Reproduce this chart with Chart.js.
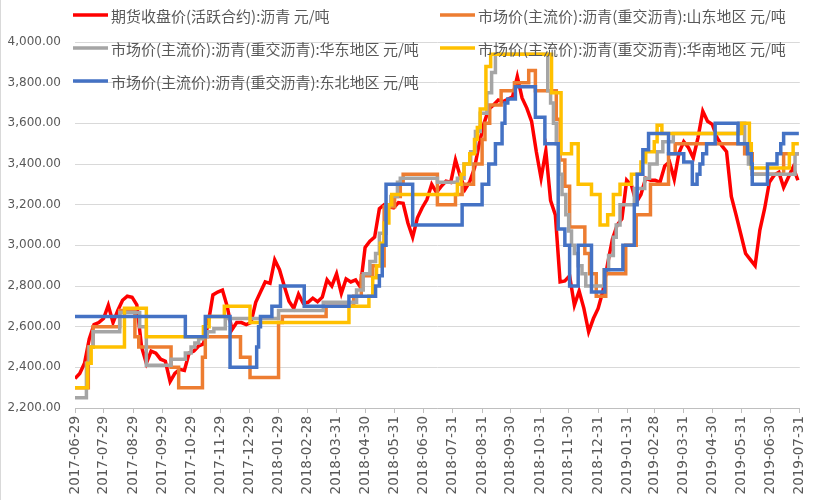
<!DOCTYPE html>
<html>
<head>
<meta charset="utf-8">
<script src="https://cdn.jsdelivr.net/npm/chart.js@4.4.0/dist/chart.umd.min.js"></script>
<style>
  html, body { margin: 0; padding: 0; background: #fff; }
  #wrap { position: relative; width: 819px; height: 500px; box-sizing: border-box; border-left: 1px solid #d9d9d9; }
  canvas { display: block; }
</style>
</head>
<body>
<div id="wrap"><canvas id="chart" width="818" height="500"></canvas></div>
<script>
// 日期范围与坐标轴刻度
const startDate = '2017-06-29';
const endDate = '2019-07-30';
const tickLabels = [
  '2017-06-29', '2017-07-29', '2017-08-29', '2017-09-29', '2017-10-29', '2017-11-29',
  '2017-12-29', '2018-01-29', '2018-02-28', '2018-03-31', '2018-04-30', '2018-05-31',
  '2018-06-30', '2018-07-31', '2018-08-31', '2018-09-30', '2018-10-31', '2018-11-30',
  '2018-12-31', '2019-01-31', '2019-02-28', '2019-03-31', '2019-04-30', '2019-05-31',
  '2019-06-30', '2019-07-31'
];

const seriesNames = [
  '期货收盘价(活跃合约):沥青 元/吨',
  '市场价(主流价):沥青(重交沥青):山东地区 元/吨',
  '市场价(主流价):沥青(重交沥青):华东地区 元/吨',
  '市场价(主流价):沥青(重交沥青):华南地区 元/吨',
  '市场价(主流价):沥青(重交沥青):东北地区 元/吨'
];
const seriesColors = ['#ff0000', '#ed7d31', '#a5a5a5', '#ffc000', '#4472c4'];

// 期货收盘价, 每5天取一个读数
const futuresStepDays = 5;
const futuresValues = [
  2345, 2370, 2420, 2540, 2610, 2620, 2640, 2705, 2620, 2680,
  2730, 2750, 2745, 2707, 2500, 2420, 2480, 2470, 2440, 2430,
  2330, 2370, 2390, 2385, 2470, 2480, 2505, 2515, 2615, 2756,
  2770, 2780, 2700, 2585, 2620, 2620, 2610, 2620, 2720, 2770,
  2820, 2813, 2928, 2880, 2800, 2725, 2690, 2760, 2715, 2720,
  2740, 2723, 2745, 2830, 2800, 2860, 2764, 2835, 2820, 2830,
  2795, 2990, 3020, 3040, 3180, 3200, 3190, 3185, 3210, 3207,
  3110, 3040, 3135, 3185, 3225, 3300, 3260, 3290, 3315, 3310,
  3420, 3340, 3275, 3313, 3380, 3500, 3600, 3670, 3690, 3715,
  3707, 3718, 3730, 3830, 3725, 3675, 3610, 3460, 3330, 3465,
  3220, 3150, 2820, 2825, 2850, 2705, 2775, 2690, 2575, 2640,
  2690, 2775, 2910, 3030, 3100, 3130, 3320, 3295, 3210, 3250,
  3330, 3320, 3320, 3310, 3390, 3410, 3325, 3455, 3510, 3480,
  3430, 3530, 3660, 3610, 3595, 3530, 3490, 3461, 3240, 3150,
  3055, 2960, 2930, 2900, 3075, 3180, 3310, 3345, 3360, 3285,
  3335, 3385, 3320
];

// 山东地区 (价格变动日 / 价格)
const shandongDates = [
  '2017-06-29', '2017-07-13', '2017-07-18', '2017-08-15', '2017-08-31', '2017-09-04',
  '2017-10-08', '2017-10-16', '2017-11-10', '2017-11-13', '2017-12-20', '2017-12-30',
  '2018-01-29', '2018-02-02', '2018-03-20', '2018-04-18', '2018-04-26', '2018-05-08',
  '2018-05-20', '2018-05-31', '2018-06-06', '2018-06-09', '2018-07-15', '2018-08-03',
  '2018-08-10', '2018-08-22', '2018-08-31', '2018-09-03', '2018-09-08', '2018-09-20',
  '2018-10-04', '2018-10-19', '2018-10-26', '2018-11-17', '2018-11-21', '2018-11-26',
  '2018-12-01', '2018-12-17', '2018-12-22', '2018-12-29', '2019-01-08', '2019-01-29',
  '2019-02-09', '2019-02-24', '2019-03-15', '2019-03-22', '2019-06-03', '2019-06-11',
  '2019-07-14'
];
const shandongValues = [
  2300, 2500, 2600, 2680, 2550, 2500,
  2400, 2300, 2450, 2550, 2450, 2350,
  2620, 2650, 2700, 2750, 2850, 2900,
  3190, 3240, 3300, 3350, 3200, 3250,
  3300, 3400, 3520, 3600, 3690, 3760,
  3800, 3860, 3760, 3620, 3420, 3290,
  3090, 2960, 2860, 2750, 2860, 3000,
  3150, 3300, 3450, 3500, 3450, 3350,
  3450
];

// 华东地区
const eastDates = [
  '2017-06-29', '2017-07-11', '2017-07-14', '2017-07-18', '2017-08-15', '2017-09-05',
  '2017-09-12', '2017-10-08', '2017-10-23', '2017-10-29', '2017-11-02', '2017-11-06',
  '2017-11-10', '2017-11-15', '2017-11-22', '2017-12-04', '2018-01-29', '2018-03-17',
  '2018-04-21', '2018-04-28', '2018-05-05', '2018-05-11', '2018-05-15', '2018-05-22',
  '2018-05-27', '2018-06-03', '2018-06-06', '2018-07-15', '2018-08-05', '2018-08-12',
  '2018-08-19', '2018-08-24', '2018-08-29', '2018-09-05', '2018-09-10', '2018-09-14',
  '2018-11-08', '2018-11-11', '2018-11-14', '2018-11-17', '2018-11-20', '2018-11-23',
  '2018-11-27', '2018-11-30', '2018-12-03', '2018-12-06', '2018-12-10', '2018-12-14',
  '2018-12-18', '2019-01-06', '2019-01-11', '2019-01-16', '2019-01-19', '2019-01-23',
  '2019-02-07', '2019-02-18', '2019-02-23', '2019-03-03', '2019-03-09', '2019-03-20',
  '2019-05-28', '2019-06-03', '2019-06-07', '2019-06-11', '2019-07-26'
];
const eastValues = [
  2250, 2420, 2500, 2575, 2670, 2600,
  2410, 2440, 2470, 2500, 2520, 2540,
  2550, 2575, 2590, 2640, 2680, 2720,
  2780, 2860, 2920, 2960, 3060, 3200,
  3240, 3310, 3330, 3310, 3330, 3400,
  3460, 3560, 3650, 3750, 3850, 3940,
  3760, 3700, 3600, 3500, 3350, 3250,
  3150, 3070, 3000, 2960, 2900, 2860,
  2800, 2880, 2950, 3040, 3100, 3200,
  3280, 3330, 3400, 3460, 3510, 3550,
  3600, 3500, 3400, 3350, 3450
];

// 华南地区
const southDates = [
  '2017-06-29', '2017-07-12', '2017-07-16', '2017-08-20', '2017-09-12', '2017-11-11',
  '2017-11-17', '2017-12-03', '2017-12-30', '2018-04-13', '2018-05-04', '2018-05-08',
  '2018-05-12', '2018-05-16', '2018-05-20', '2018-05-25', '2018-05-28', '2018-08-05',
  '2018-08-09', '2018-08-12', '2018-08-18', '2018-08-23', '2018-08-26', '2018-08-29',
  '2018-09-04', '2018-09-09', '2018-11-12', '2018-11-22', '2018-12-03', '2018-12-10',
  '2018-12-24', '2019-01-02', '2019-01-10', '2019-01-16', '2019-01-23', '2019-02-04',
  '2019-02-14', '2019-02-19', '2019-02-28', '2019-03-03', '2019-03-08', '2019-05-31',
  '2019-06-08', '2019-06-10', '2019-07-20', '2019-07-24'
];
const southValues = [
  2300, 2420, 2500, 2690, 2550, 2600,
  2650, 2700, 2620, 2700, 2750, 2840,
  2900, 3010, 3110, 3200, 3250, 3300,
  3350, 3400, 3450, 3520, 3580, 3670,
  3880, 3940, 3750, 3450, 3500, 3300,
  3250, 3100, 3150, 3250, 3300, 3350,
  3410, 3460, 3510, 3590, 3550, 3600,
  3500, 3380, 3450, 3500
];

// 东北地区
const northeastDates = [
  '2017-06-29', '2017-10-23', '2017-11-13', '2017-12-09', '2018-01-06', '2018-01-08',
  '2018-01-10', '2018-01-22', '2018-01-31', '2018-02-25', '2018-04-13', '2018-05-11',
  '2018-05-15', '2018-05-18', '2018-05-22', '2018-06-19', '2018-08-10', '2018-08-31',
  '2018-09-07', '2018-09-14', '2018-09-21', '2018-09-24', '2018-09-27', '2018-10-05',
  '2018-10-26', '2018-11-05', '2018-11-19', '2018-11-26', '2018-12-01', '2018-12-10',
  '2018-12-24', '2019-01-07', '2019-01-26', '2019-02-07', '2019-02-10', '2019-02-16',
  '2019-02-22', '2019-03-15', '2019-03-31', '2019-04-09', '2019-04-14', '2019-04-17',
  '2019-04-20', '2019-04-24', '2019-05-03', '2019-05-27', '2019-06-06', '2019-06-10',
  '2019-06-11', '2019-06-27', '2019-07-07', '2019-07-11', '2019-07-14'
];
const northeastValues = [
  2650, 2550, 2650, 2400, 2500, 2600,
  2650, 2700, 2800, 2700, 2750, 2800,
  2850, 3000, 3300, 3100, 3200, 3300,
  3400, 3500, 3600, 3700, 3720, 3780,
  3630, 3500, 3080, 3000, 2800, 3000,
  2770, 2880, 3000, 3200, 3350, 3470,
  3550, 3450, 3410, 3300, 3350, 3400,
  3450, 3500, 3600, 3500, 3450, 3400,
  3300, 3400, 3450, 3500, 3550
];

const DAY = 86400000;
const dayOf = s => (Date.parse(s) - Date.parse(startDate)) / DAY;
const lastDay = dayOf('2019-07-31');
const tickDays = tickLabels.map(dayOf);

function stepPoints(dates, values) {
  const pts = dates.map((d, i) => ({ x: dayOf(d), y: values[i] }));
  pts.push({ x: dayOf(endDate), y: values[values.length - 1] });
  return pts;
}
const futuresPoints = futuresValues.map((v, i) => ({ x: i * futuresStepDays, y: v }));

const seriesPoints = [
  futuresPoints,
  stepPoints(shandongDates, shandongValues),
  stepPoints(eastDates, eastValues),
  stepPoints(southDates, southValues),
  stepPoints(northeastDates, northeastValues)
];

// Excel 风格的图例, 画在绘图区上方
const excelLegend = {
  id: 'excelLegend',
  afterDatasetsDraw(chart) {
    const ctx = chart.ctx;
    const slots = [[72, 15], [439, 15], [72, 48], [439, 48], [72, 81]];
    ctx.save();
    ctx.font = '15px "Noto Sans CJK SC", sans-serif';
    ctx.textBaseline = 'middle';
    chart.data.datasets.forEach((ds, i) => {
      const [x, y] = slots[i];
      ctx.strokeStyle = ds.borderColor;
      ctx.lineWidth = 3.5;
      ctx.beginPath();
      ctx.moveTo(x, y);
      ctx.lineTo(x + 35, y);
      ctx.stroke();
      ctx.fillStyle = '#595959';
      ctx.fillText(ds.label, x + 38, y + 1);
    });
    ctx.restore();
  }
};

const ctx = document.getElementById('chart').getContext('2d');
new Chart(ctx, {
  type: 'line',
  data: {
    datasets: seriesNames.map((name, i) => ({
      label: name,
      data: seriesPoints[i],
      borderColor: seriesColors[i],
      backgroundColor: seriesColors[i],
      borderWidth: 3.5,
      pointRadius: 0,
      fill: false,
      tension: 0,
      stepped: i === 0 ? false : 'before',
      order: 5 - i
    }))
  },
  options: {
    responsive: false,
    animation: false,
    devicePixelRatio: 1,
    layout: { padding: { top: 42, right: 13, left: 0, bottom: 0 } },
    plugins: {
      legend: { display: false },
      tooltip: { enabled: false }
    },
    scales: {
      x: {
        type: 'linear',
        min: 0,
        max: lastDay,
        afterBuildTicks: axis => { axis.ticks = tickDays.map(v => ({ value: v })); },
        afterFit: axis => { axis.height = 92; },
        ticks: {
          autoSkip: false,
          minRotation: 90,
          maxRotation: 90,
          padding: 3,
          color: '#595959',
          font: { family: 'DejaVu Sans', size: 13.5 },
          callback: (v, i) => tickLabels[i]
        },
        grid: { drawOnChartArea: false, drawTicks: true, tickLength: 5, color: '#bfbfbf' },
        border: { display: true, color: '#bfbfbf' }
      },
      y: {
        min: 2200,
        max: 4000,
        afterFit: axis => { axis.width = 74; },
        ticks: {
          stepSize: 200,
          padding: 14,
          color: '#595959',
          font: { family: 'DejaVu Sans', size: 12 },
          callback: v => v.toLocaleString('en-US', { minimumFractionDigits: 2, maximumFractionDigits: 2 })
        },
        grid: { color: '#d9d9d9', drawTicks: false },
        border: { display: false }
      }
    }
  },
  plugins: [excelLegend]
});
</script>
</body>
</html>
